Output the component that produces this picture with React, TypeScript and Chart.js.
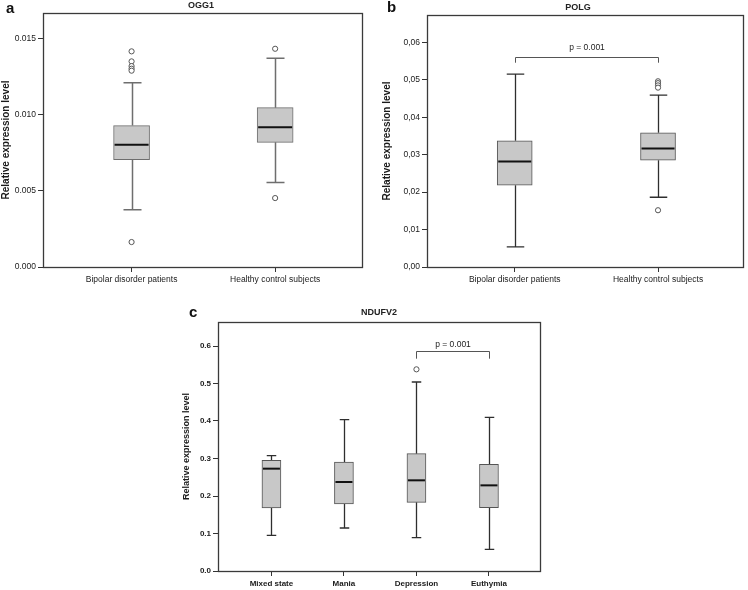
import React, { useEffect, useRef } from 'react';
import { Chart, registerables } from 'chart.js';

Chart.register(...registerables);

// ---------- Panel a: OGG1 ----------
const ogg1Categories = ['Bipolar disorder patients', 'Healthy control subjects'];
const ogg1Q1 = [0.00705, 0.00819];
const ogg1Median = [0.00804, 0.00918];
const ogg1Q3 = [0.00929, 0.01047];
const ogg1WhiskerLow = [0.00377, 0.00556];
const ogg1WhiskerHigh = [0.01211, 0.01371];
const ogg1Outliers = [
  [0.01417, 0.01351, 0.0132, 0.01303, 0.0129, 0.00164],
  [0.01434, 0.00453],
];
const ogg1Ticks = [0, 0.005, 0.01, 0.015];
const ogg1TickLabels = ['0.000', '0.005', '0.010', '0.015'];
const ogg1YMax = 0.01669;

// ---------- Panel b: POLG ----------
const polgCategories = ['Bipolar disorder patients', 'Healthy control subjects'];
const polgQ1 = [0.02184, 0.02853];
const polgMedian = [0.02817, 0.03165];
const polgQ3 = [0.0337, 0.03584];
const polgWhiskerLow = [0.00535, 0.01863];
const polgWhiskerHigh = [0.05153, 0.04591];
const polgOutliers = [
  [],
  [0.0496, 0.0491, 0.0485, 0.0479, 0.01516],
];
const polgTicks = [0, 0.01, 0.02, 0.03, 0.04, 0.05, 0.06];
const polgTickLabels = ['0,00', '0,01', '0,02', '0,03', '0,04', '0,05', '0,06'];
const polgYMax = 0.0673;
const polgBracket = { from: 0, to: 1, top: 0.05617, foot: 0.05456, labelAt: 0.05857, label: 'p = 0.001' };

// ---------- Panel c: NDUFV2 ----------
const ndufv2Categories = ['Mixed state', 'Mania', 'Depression', 'Euthymia'];
const ndufv2Q1 = [0.168, 0.1787, 0.1831, 0.1689];
const ndufv2Median = [0.2729, 0.2373, 0.2418, 0.2284];
const ndufv2Q3 = [0.2951, 0.2907, 0.3129, 0.2844];
const ndufv2WhiskerLow = [0.0951, 0.1147, 0.0889, 0.0578];
const ndufv2WhiskerHigh = [0.3076, 0.4036, 0.504, 0.4098];
const ndufv2Outliers = [[], [], [0.5378], []];
const ndufv2Ticks = [0, 0.1, 0.2, 0.3, 0.4, 0.5, 0.6];
const ndufv2TickLabels = ['0.0', '0.1', '0.2', '0.3', '0.4', '0.5', '0.6'];
const ndufv2YMax = 0.664;
const ndufv2Bracket = { from: 2, to: 3, top: 0.5876, foot: 0.5662, labelAt: 0.6027, label: 'p = 0.001' };

const FONT = "'Liberation Sans', Arial, sans-serif";

type Bracket = { from: number; to: number; top: number; foot: number; labelAt: number; label: string };

type PanelCfg = {
  letter: string;
  title: string;
  categories: string[];
  q1: number[];
  median: number[];
  q3: number[];
  lo: number[];
  hi: number[];
  outliers: number[][];
  ticks: number[];
  tickLabels: string[];
  yMax: number;
  bracket?: Bracket;
  xMin: number;
  xMax: number;
  yAxisWidth: number;
  xAxisHeight: number;
  padTop: number;
  padRight: number;
  boxWidth: number;
  letterPos: [number, number];
  titlePos: [number, number];
  titleSize: number;
  yTitleSize: number;
  yTitlePad: number;
  tickSize: number;
  tickBold: boolean;
  whiskerColor: string;
  whiskerWidth: number;
  boxBorder: string;
};

const panelA: PanelCfg = {
  letter: 'a', title: 'OGG1',
  categories: ogg1Categories, q1: ogg1Q1, median: ogg1Median, q3: ogg1Q3,
  lo: ogg1WhiskerLow, hi: ogg1WhiskerHigh, outliers: ogg1Outliers,
  ticks: ogg1Ticks, tickLabels: ogg1TickLabels, yMax: ogg1YMax,
  xMin: -0.617, xMax: 1.605, yAxisWidth: 43, xAxisHeight: 33, padTop: 13, padRight: 8,
  boxWidth: 36, letterPos: [6, 9], titlePos: [201, 6], titleSize: 9,
  yTitleSize: 10, yTitlePad: 0, tickSize: 8.5, tickBold: false,
  whiskerColor: '#6e6e6e', whiskerWidth: 1.5, boxBorder: '#6e6e6e',
};

const panelB: PanelCfg = {
  letter: 'b', title: 'POLG',
  categories: polgCategories, q1: polgQ1, median: polgMedian, q3: polgQ3,
  lo: polgWhiskerLow, hi: polgWhiskerHigh, outliers: polgOutliers,
  ticks: polgTicks, tickLabels: polgTickLabels, yMax: polgYMax, bracket: polgBracket,
  xMin: -0.612, xMax: 1.593, yAxisWidth: 57, xAxisHeight: 33, padTop: 15, padRight: 5,
  boxWidth: 35, letterPos: [17, 8], titlePos: [208, 8], titleSize: 9,
  yTitleSize: 10, yTitlePad: 11, tickSize: 8.5, tickBold: false,
  whiskerColor: '#2e2e2e', whiskerWidth: 1.3, boxBorder: '#555555',
};

const panelC: PanelCfg = {
  letter: 'c', title: 'NDUFV2',
  categories: ndufv2Categories, q1: ndufv2Q1, median: ndufv2Median, q3: ndufv2Q3,
  lo: ndufv2WhiskerLow, hi: ndufv2WhiskerHigh, outliers: ndufv2Outliers,
  ticks: ndufv2Ticks, tickLabels: ndufv2TickLabels, yMax: ndufv2YMax, bracket: ndufv2Bracket,
  xMin: -0.737, xMax: 3.704, yAxisWidth: 58, xAxisHeight: 19, padTop: 17, padRight: 20,
  boxWidth: 19, letterPos: [29, 8], titlePos: [219, 8], titleSize: 9,
  yTitleSize: 9, yTitlePad: 21, tickSize: 8, tickBold: true,
  whiskerColor: '#2e2e2e', whiskerWidth: 1.3, boxBorder: '#555555',
};

function extrasPlugin(p: PanelCfg) {
  return {
    id: 'boxExtras',
    beforeDatasetsDraw(chart: any) {
      const { ctx, chartArea: a } = chart;
      const xs = chart.scales.x;
      const ys = chart.scales.y;
      ctx.save();
      ctx.strokeStyle = '#3a3a3a';
      ctx.lineWidth = 1.3;
      ctx.strokeRect(Math.round(a.left) + 0.5, Math.round(a.top) + 0.5, Math.round(a.right - a.left), Math.round(a.bottom - a.top));
      ctx.strokeStyle = p.whiskerColor;
      ctx.lineWidth = p.whiskerWidth;
      const capHalf = p.boxWidth / 4;
      p.categories.forEach((_, i) => {
        const cx = Math.round(xs.getPixelForValue(i)) + 0.5;
        const yq1 = ys.getPixelForValue(p.q1[i]);
        const yq3 = ys.getPixelForValue(p.q3[i]);
        const ylo = ys.getPixelForValue(p.lo[i]);
        const yhi = ys.getPixelForValue(p.hi[i]);
        ctx.beginPath();
        ctx.moveTo(cx, yq3);
        ctx.lineTo(cx, yhi);
        ctx.moveTo(cx - capHalf, yhi);
        ctx.lineTo(cx + capHalf, yhi);
        ctx.moveTo(cx, yq1);
        ctx.lineTo(cx, ylo);
        ctx.moveTo(cx - capHalf, ylo);
        ctx.lineTo(cx + capHalf, ylo);
        ctx.stroke();
      });
      ctx.restore();
    },
    afterDatasetsDraw(chart: any) {
      const { ctx } = chart;
      const xs = chart.scales.x;
      const ys = chart.scales.y;
      ctx.save();
      ctx.strokeStyle = '#111111';
      ctx.lineWidth = 2;
      const half = p.boxWidth / 2;
      p.categories.forEach((_, i) => {
        const cx = xs.getPixelForValue(i);
        const ym = ys.getPixelForValue(p.median[i]);
        ctx.beginPath();
        ctx.moveTo(cx - half + 1, ym);
        ctx.lineTo(cx + half - 1, ym);
        ctx.stroke();
      });
      if (p.bracket) {
        const b = p.bracket;
        const x1 = Math.round(xs.getPixelForValue(b.from)) + 0.5;
        const x2 = Math.round(xs.getPixelForValue(b.to)) + 0.5;
        const yt = Math.round(ys.getPixelForValue(b.top)) + 0.5;
        const yf = ys.getPixelForValue(b.foot);
        ctx.strokeStyle = '#555555';
        ctx.lineWidth = 1;
        ctx.beginPath();
        ctx.moveTo(x1, yf);
        ctx.lineTo(x1, yt);
        ctx.lineTo(x2, yt);
        ctx.lineTo(x2, yf);
        ctx.stroke();
        ctx.fillStyle = '#222222';
        ctx.font = `8.5px ${FONT}`;
        ctx.textAlign = 'center';
        ctx.textBaseline = 'middle';
        ctx.fillText(b.label, (x1 + x2) / 2, ys.getPixelForValue(b.labelAt));
      }
      ctx.restore();
    },
    afterDraw(chart: any) {
      const { ctx } = chart;
      ctx.save();
      ctx.fillStyle = '#111111';
      ctx.textBaseline = 'middle';
      ctx.textAlign = 'left';
      ctx.font = `bold 15px ${FONT}`;
      ctx.fillText(p.letter, p.letterPos[0], p.letterPos[1]);
      ctx.textAlign = 'center';
      ctx.fillStyle = '#222222';
      ctx.font = `bold ${p.titleSize}px ${FONT}`;
      ctx.fillText(p.title, p.titlePos[0], p.titlePos[1]);
      ctx.restore();
    },
  };
}

function makeChart(canvas: HTMLCanvasElement, p: PanelCfg) {
  const tickFont = { family: FONT, size: p.tickSize, weight: p.tickBold ? 'bold' : 'normal' } as any;
  const outlierPoints: { x: number; y: number }[] = [];
  p.outliers.forEach((list, i) => list.forEach((v) => outlierPoints.push({ x: i, y: v })));
  return new Chart(canvas, {
    type: 'bar',
    data: {
      datasets: [
        {
          type: 'bar',
          data: p.categories.map((_, i) => ({ x: i, y: [p.q1[i], p.q3[i]] })) as any,
          backgroundColor: '#c8c8c8',
          borderColor: p.boxBorder,
          borderWidth: 1,
          borderSkipped: false,
          barThickness: p.boxWidth,
        } as any,
        {
          type: 'scatter',
          data: outlierPoints,
          pointStyle: 'circle',
          pointRadius: 2.6,
          pointBorderWidth: 1,
          pointBorderColor: '#555555',
          pointBackgroundColor: '#ffffff',
        } as any,
      ],
    },
    options: {
      animation: false,
      responsive: false,
      devicePixelRatio: 1,
      layout: { padding: { left: 0, top: p.padTop, right: p.padRight, bottom: 0 } },
      plugins: {
        legend: { display: false },
        tooltip: { enabled: false },
        title: { display: false },
      },
      scales: {
        x: {
          type: 'linear',
          min: p.xMin,
          max: p.xMax,
          offset: false,
          border: { display: false },
          grid: { display: true, offset: false, drawOnChartArea: false, drawTicks: true, tickLength: 5, color: '#333333', lineWidth: 1 },
          ticks: {
            autoSkip: false,
            maxRotation: 0,
            padding: 3,
            color: '#1a1a1a',
            font: tickFont,
            callback: (_v: any, i: number) => p.categories[i],
          },
          afterBuildTicks: (s: any) => {
            s.ticks = p.categories.map((_, i) => ({ value: i }));
          },
          afterFit: (s: any) => {
            s.height = p.xAxisHeight;
          },
        } as any,
        y: {
          type: 'linear',
          min: 0,
          max: p.yMax,
          border: { display: false },
          grid: { display: true, drawOnChartArea: false, drawTicks: true, tickLength: 5, color: '#333333', lineWidth: 1 },
          ticks: {
            padding: 2,
            color: '#1a1a1a',
            font: tickFont,
            callback: (_v: any, i: number) => p.tickLabels[i],
          },
          afterBuildTicks: (s: any) => {
            s.ticks = p.ticks.map((v) => ({ value: v }));
          },
          afterFit: (s: any) => {
            s.width = p.yAxisWidth;
          },
          title: {
            display: true,
            text: 'Relative expression level',
            color: '#1a1a1a',
            font: { family: FONT, size: p.yTitleSize, weight: 'bold' },
            padding: { top: p.yTitlePad, bottom: 0 },
          },
        } as any,
      },
    },
    plugins: [extrasPlugin(p) as any],
  });
}

export default function App() {
  const refA = useRef<HTMLCanvasElement>(null);
  const refB = useRef<HTMLCanvasElement>(null);
  const refC = useRef<HTMLCanvasElement>(null);

  useEffect(() => {
    const charts = [
      makeChart(refA.current!, panelA),
      makeChart(refB.current!, panelB),
      makeChart(refC.current!, panelC),
    ];
    return () => charts.forEach((c) => c.destroy());
  }, []);

  return (
    <div style={{ position: 'absolute', left: 0, top: 0, width: 748, height: 590, background: '#ffffff' }}>
      <canvas ref={refA} width={370} height={300} style={{ position: 'absolute', left: 0, top: 0 }} />
      <canvas ref={refB} width={378} height={300} style={{ position: 'absolute', left: 370, top: 0 }} />
      <canvas ref={refC} width={400} height={285} style={{ position: 'absolute', left: 160, top: 305 }} />
    </div>
  );
}
